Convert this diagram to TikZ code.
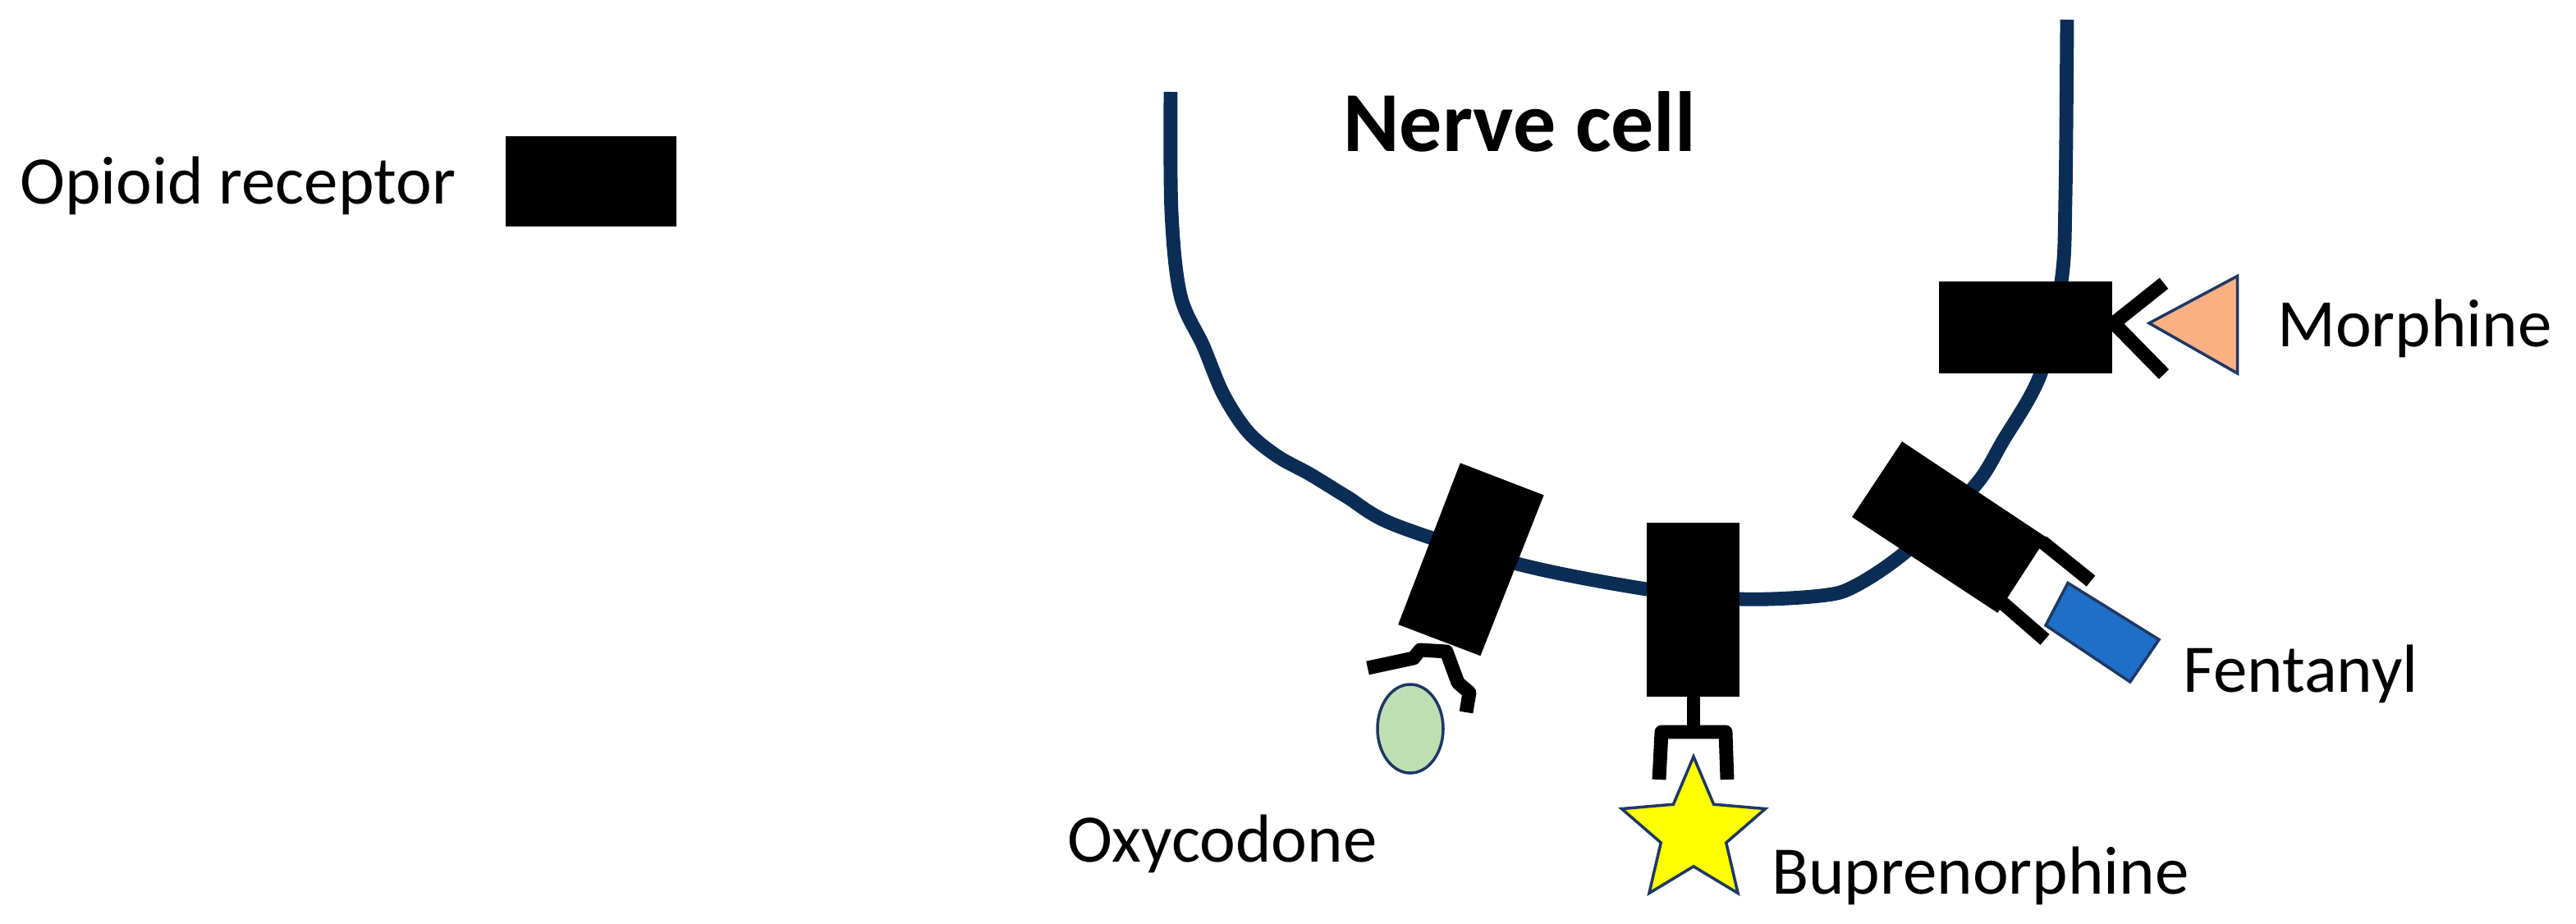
\documentclass[tikz,border=0pt]{standalone}
\usepackage{fontspec}
\setmainfont{Carlito}
\usetikzlibrary{shapes.geometric}
\definecolor{memb}{HTML}{0B2D55}
\definecolor{morph}{HTML}{FBB084}
\definecolor{fent}{HTML}{1F6FC8}
\definecolor{oxy}{HTML}{BDDFB4}
\definecolor{bup}{HTML}{FFFF00}
\definecolor{edge}{HTML}{1F3864}
\begin{document}
\begin{tikzpicture}[x=0.05cm,y=-0.05cm,
  lbl/.style={font=\fontsize{59}{60}\selectfont, anchor=base west, inner sep=0},
  prong/.style={line width=12pt, black},
  lig/.style={draw=edge, line width=2.5pt}]
\useasboundingbox (0,0) rectangle (1569,562.5);
% membrane
\draw[memb, line width=12pt, line join=round] plot[smooth, tension=0.55] coordinates {
 (713,56) (713.5,129) (719,180) (733,211) (745,240) (760,263) (778,278)
 (798,289) (820,302.5) (850,320) (926,344) (1003,359) (1059.5,365)
 (1108.7,363) (1130,357) (1161,336) (1202,297) (1220,268.6) (1243,227.5) (1255.6,171) (1258,120) (1259,12)};
% legend
\node[lbl] (leg) at (12,124) {Opioid receptor};
\fill (308,83) rectangle (412,138);
\node[lbl, font=\bfseries\fontsize{74}{75}\selectfont] (nc) at (818,92) {Nerve cell};
% morphine
\fill (1181,171.4) rectangle (1286.7,227.5);
\draw[prong] (1318,172.6) -- (1287.5,196.9) -- (1318,228);
\draw[lig, fill=morph] (1362.8,168.2) -- (1309,196.9) -- (1362.8,227.5) -- cycle;
\node[lbl] (mo) at (1387,211) {Morphine};
% fentanyl
\fill (1158.5,269) -- (1246.5,327.5) -- (1216.7,373.4) -- (1128,315) -- cycle;
\draw[prong] (1243.7,330) -- (1273.5,354);
\draw[prong] (1219,366.7) -- (1245.5,389.7);
\draw[lig, fill=fent] (1259.5,355.2) -- (1315,389.7) -- (1297.4,415.5) -- (1246,381) -- cycle;
\node[lbl] (fe) at (1329.6,421.7) {Fentanyl};
% buprenorphine
\fill (1003,318.5) rectangle (1059.5,424.5);
\draw[prong] (1031.5,424) -- (1031.5,446);
\draw[prong, line join=round] (1010.5,475) -- (1012,446) -- (1051,446) -- (1052,475);
\node[star, star points=5, star point ratio=2.2, draw=edge, line width=2.5pt, fill=bup, inner sep=0, minimum size=4.6cm] (st) at (1031.5,507) {};
\node[lbl] (bu) at (1079,544.6) {Buprenorphine};
% oxycodone
\fill (889.4,282.1) -- (940.3,301.7) -- (901.7,399.6) -- (851.6,380.5) -- cycle;
\draw[prong, line join=round] (833,407) -- (861,401) -- (865,396) -- (881,397) -- (888,416) -- (895,422) -- (893,434);
\draw[lig, fill=oxy] (859,444) ellipse [x radius=20, y radius=27];
\node[lbl] (ox) at (650,525) {Oxycodone};
\end{tikzpicture}
\end{document}
